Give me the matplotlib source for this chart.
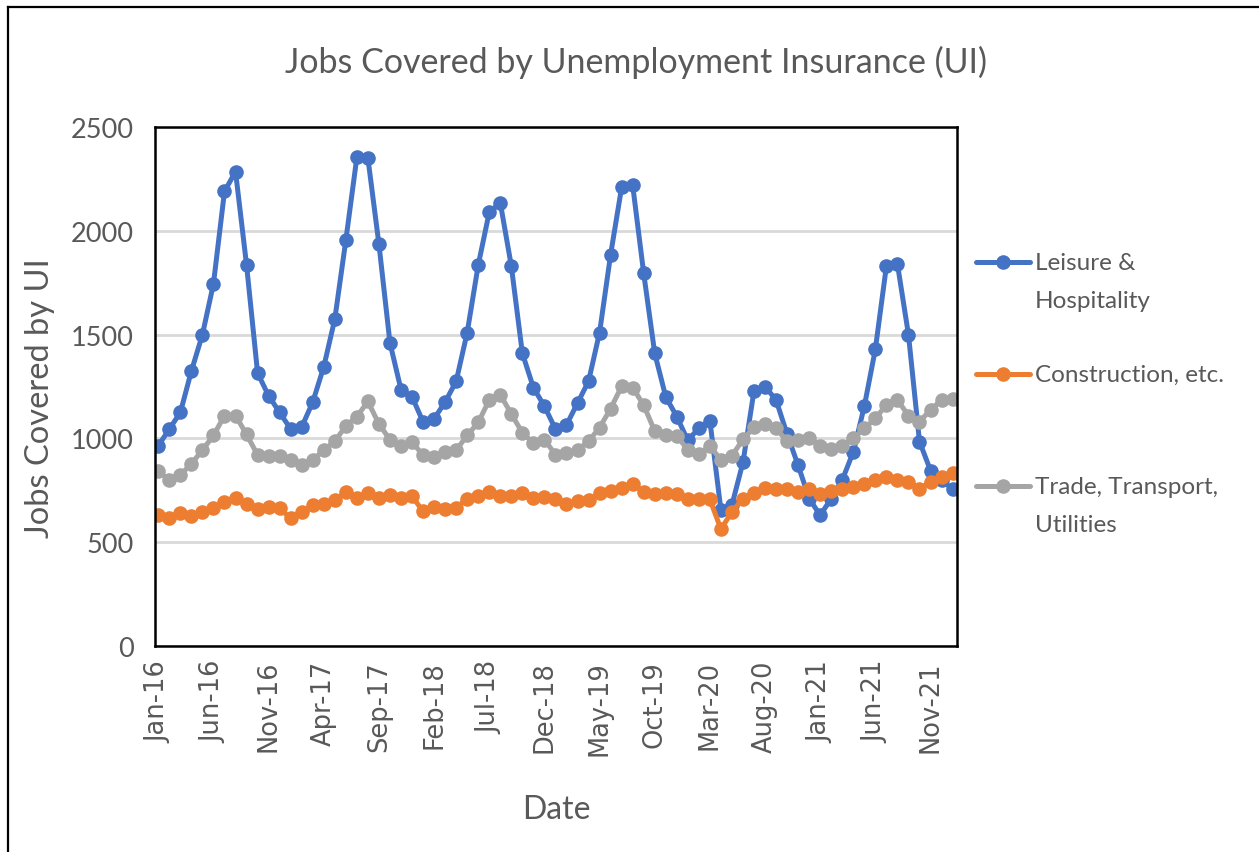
import matplotlib
matplotlib.use("Agg")
import matplotlib.pyplot as plt
from matplotlib.lines import Line2D
import pandas as pd

# ---------------- data ----------------
dates = pd.date_range("2016-01-01", periods=73, freq="MS")
date_labels = [d.strftime("%b-%y") for d in dates]

leisure = [965, 1045, 1125, 1325, 1500, 1745, 2190, 2285, 1835, 1315, 1205, 1125,
           1045, 1055, 1175, 1345, 1575, 1955, 2355, 2350, 1935, 1460, 1235, 1200,
           1080, 1095, 1175, 1275, 1510, 1835, 2090, 2135, 1830, 1410, 1245, 1155,
           1045, 1065, 1170, 1275, 1510, 1885, 2210, 2220, 1795, 1410, 1200, 1105,
           990, 1050, 1085, 655, 680, 885, 1230, 1250, 1185, 1020, 870, 710,
           630, 710, 800, 935, 1155, 1430, 1830, 1840, 1500, 985, 845, 800,
           755]
construction = [630, 615, 640, 628, 645, 663, 696, 715, 685, 660, 670, 663,
                615, 645, 680, 685, 705, 740, 715, 735, 715, 725, 712, 722,
                648, 668, 658, 666, 710, 722, 740, 724, 722, 735, 712, 716,
                708, 685, 699, 704, 737, 746, 762, 778, 744, 732, 736, 731,
                706, 708, 706, 563, 646, 710, 735, 760, 755, 758, 742, 758,
                734, 745, 758, 766, 782, 798, 815, 798, 790, 758, 790, 815,
                831]
trade = [842, 800, 824, 878, 944, 1014, 1110, 1110, 1019, 920, 915, 915,
         895, 873, 895, 944, 986, 1060, 1105, 1178, 1069, 994, 964, 981,
         920, 911, 936, 944, 1014, 1077, 1185, 1210, 1118, 1027, 978, 994,
         922, 928, 944, 986, 1052, 1143, 1251, 1245, 1160, 1035, 1014, 1012,
         945, 924, 963, 897, 917, 995, 1054, 1071, 1048, 987, 992, 1000,
         965, 948, 965, 1000, 1048, 1097, 1161, 1185, 1110, 1081, 1137, 1185,
         1190]

series_names = ["Leisure &\nHospitality", "Construction, etc.", "Trade, Transport,\nUtilities"]
series_values = [leisure, construction, trade]
series_colors = ["#4472C4", "#ED7D31", "#A5A5A5"]

y_ticks = [0, 500, 1000, 1500, 2000, 2500]
label_step = 5

title = "Jobs Covered by Unemployment Insurance (UI)"
x_title = "Date"
y_title = "Jobs Covered by UI"

# ---------------- figure ----------------
W, H = 1259, 853
fig = plt.figure(figsize=(W / 100, H / 100), dpi=100)
fig.patch.set_facecolor("white")

def fx(px):
    return px / W

def fy(py):
    return 1 - py / H

left, right, top, bottom = 155, 957, 128, 647
ax = fig.add_axes([fx(left), fy(bottom), fx(right - left), (bottom - top) / H])

text_col = "#595959"
x = list(range(len(dates)))

for name, vals, col in zip(series_names, series_values, series_colors):
    ax.plot(x, vals, color=col, lw=3.6, marker="o", ms=10.5,
            markeredgewidth=0, solid_capstyle="round", solid_joinstyle="round",
            zorder=3, label=name)

ax.set_ylim(0, 2500)
ax.set_xlim(-0.3, len(dates) - 1 + 0.4)
ax.set_yticks(y_ticks)
ax.set_yticklabels([str(v) for v in y_ticks], fontfamily="Lato", fontsize=19.5, color=text_col)
tick_pos = x[::label_step]
ax.set_xticks(tick_pos)
ax.set_xticklabels([date_labels[i] for i in tick_pos], rotation=90,
                   fontfamily="DejaVu Sans", fontsize=18.5, color=text_col)
ax.tick_params(axis="both", length=0)
ax.tick_params(axis="y", pad=15)
ax.tick_params(axis="x", pad=10)

ax.grid(axis="y", color="#D9D9D9", lw=2, zorder=0)
ax.set_axisbelow(True)
for sp in ax.spines.values():
    sp.set_color("black")
    sp.set_linewidth(1.8)
    sp.set_zorder(5)

# titles
fig.text(fx(636), fy(62), title, ha="center", va="center",
         fontfamily="Lato", fontsize=24.5, color=text_col)
fig.text(fx(556), fy(810), x_title, ha="center", va="center",
         fontfamily="Lato", fontsize=23, color=text_col)
fig.text(fx(40), fy(398), y_title, ha="center", va="center", rotation=90,
         fontfamily="Lato", fontsize=23.5, color=text_col)

# legend (manual, matching the reference's uneven spacing)
legend_rows = [263, 375, 487]
for name, col, ry in zip(series_names, series_colors, legend_rows):
    fig.add_artist(Line2D([fx(976), fx(1030)], [fy(ry), fy(ry)], color=col, lw=3.6,
                          solid_capstyle="round", transform=fig.transFigure))
    fig.add_artist(Line2D([fx(1003)], [fy(ry)], color=col, marker="o", ms=10.5,
                          markeredgewidth=0, transform=fig.transFigure))
    fig.text(fx(1035), fy(ry - 10), name, ha="left", va="top",
             fontfamily="Lato", fontsize=17.5, color=text_col, linespacing=2.0)

# outer screenshot border (top and left)
fig.add_artist(Line2D([fx(8), 1.0], [fy(8), fy(8)], color="black", lw=1.6, transform=fig.transFigure))
fig.add_artist(Line2D([fx(8), fx(8)], [fy(8), 0.0], color="black", lw=1.6, transform=fig.transFigure))

fig.savefig("out.png", dpi=100, facecolor="white")
